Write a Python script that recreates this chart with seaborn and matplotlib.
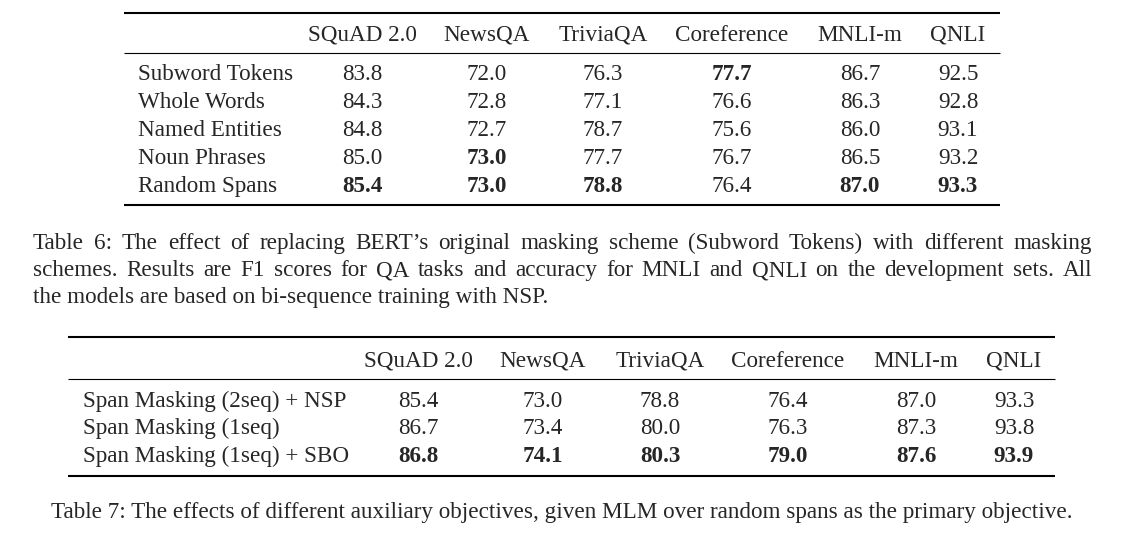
import matplotlib
matplotlib.use("Agg")
import matplotlib.pyplot as plt
import seaborn as sns

# Table 6 data
cols6 = ["SQuAD 2.0", "NewsQA", "TriviaQA", "Coreference", "MNLI-m", "QNLI"]
rows6 = ["Subword Tokens", "Whole Words", "Named Entities", "Noun Phrases", "Random Spans"]
vals6 = [
    [83.8, 72.0, 76.3, 77.7, 86.7, 92.5],
    [84.3, 72.8, 77.1, 76.6, 86.3, 92.8],
    [84.8, 72.7, 78.7, 75.6, 86.0, 93.1],
    [85.0, 73.0, 77.7, 76.7, 86.5, 93.2],
    [85.4, 73.0, 78.8, 76.4, 87.0, 93.3],
]
caption6 = [
    "Table 6: The effect of replacing BERT\u2019s original masking scheme (Subword Tokens) with different masking",
    "schemes. Results are F1 scores for QA tasks and accuracy for MNLI and QNLI on the development sets. All",
    "the models are based on bi-sequence training with NSP.",
]

# Table 7 data
cols7 = ["SQuAD 2.0", "NewsQA", "TriviaQA", "Coreference", "MNLI-m", "QNLI"]
rows7 = ["Span Masking (2seq) + NSP", "Span Masking (1seq)", "Span Masking (1seq) + SBO"]
vals7 = [
    [85.4, 73.0, 78.8, 76.4, 87.0, 93.3],
    [86.7, 73.4, 80.0, 76.3, 87.3, 93.8],
    [86.8, 74.1, 80.3, 79.0, 87.6, 93.9],
]
caption7 = "Table 7: The effects of different auxiliary objectives, given MLM over random spans as the primary objective."

sns.set_theme(style="white")
plt.rcParams["font.family"] = ["Liberation Serif", "DejaVu Serif"]
FS = 16.7
BASE = 7  # baseline offset below the visual centre of capitals, px

fig = plt.figure(figsize=(11.31, 5.38), dpi=100)
ax = fig.add_axes([0, 0, 1, 1])
ax.set_xlim(0, 1131)
ax.set_ylim(538, 0)
ax.axis("off")


def txt(x, y, s, ha="left", **kw):
    return ax.text(x, y + BASE, s, ha=ha, va="baseline", fontsize=FS, **kw)


def draw_table(cols, rows, vals, x0, x1, y_top, y_mid, y_bot, label_x, col_x, head_y, row_y):
    ax.plot([x0, x1], [y_top, y_top], color="black", lw=1.5, solid_capstyle="butt")
    ax.plot([x0, x1], [y_mid, y_mid], color="black", lw=0.8, solid_capstyle="butt")
    ax.plot([x0, x1], [y_bot, y_bot], color="black", lw=1.5, solid_capstyle="butt")
    for c, cx in zip(cols, col_x):
        txt(cx, head_y, c, ha="center")
    best = [max(r[j] for r in vals) for j in range(len(cols))]
    for i, (name, ry) in enumerate(zip(rows, row_y)):
        txt(label_x, ry, name)
        for j, cx in enumerate(col_x):
            v = vals[i][j]
            txt(cx, ry, f"{v:.1f}", ha="center",
                fontweight="bold" if v == best[j] else "normal")


draw_table(cols6, rows6, vals6, 124, 1000, 13, 53, 205, 138,
           [362, 487, 603, 732, 860, 958], 34, [73, 101, 129, 157, 185])
draw_table(cols7, rows7, vals7, 68, 1055, 337, 379, 476, 83,
           [418, 543, 660, 788, 916, 1014], 360, [400, 427, 455])

# justified caption for table 6
fig.canvas.draw()
renderer = fig.canvas.get_renderer()


def width_of(s):
    t = ax.text(0, 0, s, fontsize=FS)
    bb = t.get_window_extent(renderer)
    t.remove()
    return bb.width


left, right = 33, 1092
for k, (line, y) in enumerate(zip(caption6, [242, 269, 296])):
    words = line.split(" ")
    if k == len(caption6) - 1:
        txt(left, y, line)
        continue
    widths = [width_of(w) for w in words]
    gap = (right - left - sum(widths)) / (len(words) - 1)
    x = left
    for w, wd in zip(words, widths):
        txt(x, y, w)
        x += wd + gap

txt(562, 511, caption7, ha="center")

fig.savefig("out.png", dpi=100)
